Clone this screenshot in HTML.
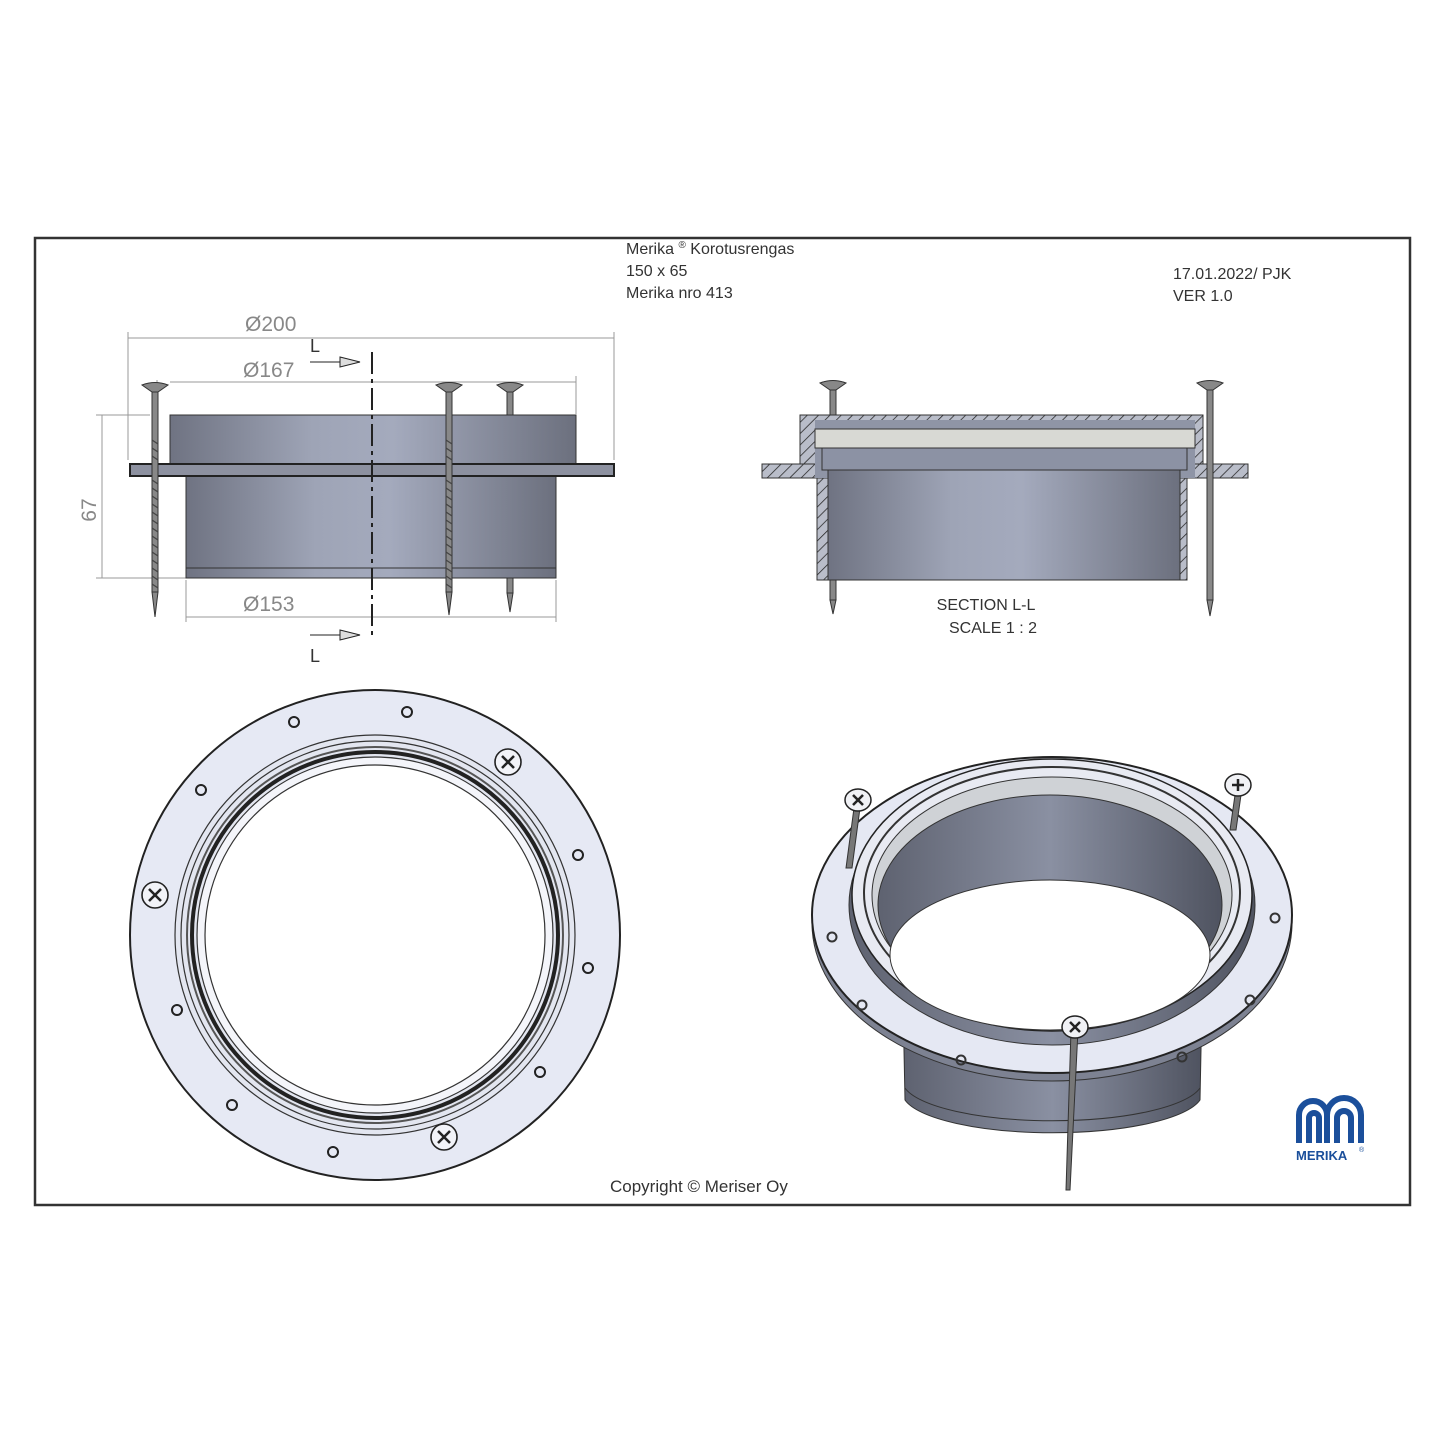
<!DOCTYPE html>
<html><head><meta charset="utf-8"><style>
html,body{margin:0;padding:0;background:#fff}
svg{display:block}
text{font-family:"Liberation Sans",sans-serif;fill:#333}
</style></head><body>
<svg width="1445" height="1445" viewBox="0 0 1445 1445" xmlns="http://www.w3.org/2000/svg">
<defs>
<linearGradient id="cyl" x1="0" x2="1" y1="0" y2="0">
<stop offset="0" stop-color="#6f7382"/><stop offset="0.35" stop-color="#9ea4b6"/><stop offset="0.55" stop-color="#a4aabd"/><stop offset="1" stop-color="#6c707e"/></linearGradient>
<linearGradient id="dark" x1="0" x2="1"><stop offset="0" stop-color="#5e6270"/><stop offset="0.5" stop-color="#8a90a2"/><stop offset="1" stop-color="#4f5360"/></linearGradient>
<pattern id="hatch" width="8" height="8" patternUnits="userSpaceOnUse" patternTransform="rotate(45)"><rect width="8" height="8" fill="#b9bdc9"/><line x1="0" y1="0" x2="0" y2="8" stroke="#222" stroke-width="1.5"/></pattern>
<g id="thread"><path d="M-3 0 L3 3 M-3 4 L3 7 M-3 8 L3 11" stroke="#333" stroke-width="1"/></g>
</defs>
<rect x="35" y="238" width="1375" height="967" fill="none" stroke="#333" stroke-width="2.5"/>

<!-- header -->
<text x="626" y="254" font-size="16">Merika <tspan font-size="10" dy="-6">®</tspan><tspan dy="6">   Korotusrengas</tspan></text>
<text x="626" y="276" font-size="16">150 x 65</text>
<text x="626" y="298" font-size="16">Merika nro 413</text>
<text x="1173" y="279" font-size="16">17.01.2022/ PJK</text>
<text x="1173" y="301" font-size="16">VER 1.0</text>

<!-- TOP LEFT VIEW -->
<g stroke="#999" stroke-width="1" fill="none">
<line x1="128" y1="338" x2="614" y2="338"/><line x1="128" y1="332" x2="128" y2="460"/><line x1="614" y1="332" x2="614" y2="460"/>
<line x1="170" y1="382" x2="576" y2="382"/><line x1="576" y1="376" x2="576" y2="414"/><line x1="157" y1="380" x2="157" y2="410"/>
<line x1="186" y1="617" x2="556" y2="617"/><line x1="186" y1="580" x2="186" y2="622"/><line x1="556" y1="580" x2="556" y2="622"/>
<line x1="102" y1="415" x2="102" y2="578"/><line x1="96" y1="415" x2="150" y2="415"/><line x1="96" y1="578" x2="186" y2="578"/>
</g>
<text x="245" y="331" font-size="21" fill="#888" style="fill:#888">Ø200</text>
<text x="243" y="377" font-size="21" style="fill:#888">Ø167</text>
<text x="243" y="611" font-size="21" style="fill:#888">Ø153</text>
<text x="96" y="510" font-size="21" style="fill:#888" transform="rotate(-90 96 510)" text-anchor="middle">67</text>
<rect x="170" y="415" width="406" height="49" fill="url(#cyl)" stroke="#333"/>
<rect x="186" y="476" width="370" height="102" fill="url(#cyl)" stroke="#333"/>
<line x1="186" y1="568" x2="556" y2="568" stroke="#333"/>
<rect x="130" y="464" width="484" height="12" fill="#8d91a0" stroke="#222" stroke-width="2"/>
<line x1="372" y1="352" x2="372" y2="640" stroke="#222" stroke-width="2" stroke-dasharray="22 5 4 5"/>
<g stroke="#222" fill="#ddd"><path d="M310 362 H340 M340 357 L360 362 L340 367 Z"/><path d="M310 635 H340 M340 630 L360 635 L340 640 Z"/></g>
<text x="310" y="352" font-size="18">L</text><text x="310" y="662" font-size="18">L</text>
<!-- screws -->
<g stroke="#333" fill="#888">
<path d="M142 385 Q155 380 168 385 L158 392 L152 392 Z"/><rect x="152" y="392" width="6" height="200"/><path d="M152 592 L155 617 L158 592Z"/>
<path d="M436 385 Q449 380 462 385 L452 392 L446 392 Z"/><rect x="446" y="392" width="6" height="200"/><path d="M446 592 L449 615 L452 592Z"/>
<path d="M497 385 Q510 380 523 385 L513 392 L507 392 Z"/><rect x="507" y="392" width="6" height="23"/><rect x="507" y="578" width="6" height="15"/><path d="M507 593 L510 612 L513 593Z"/>
</g>
<g stroke="#444" stroke-width="1.2"><path d="M152 440 L158 444 M152 448 L158 452 M152 456 L158 460 M152 480 L158 484 M152 488 L158 492 M152 496 L158 500 M152 504 L158 508 M152 512 L158 516 M152 520 L158 524 M152 528 L158 532 M152 536 L158 540 M152 544 L158 548 M152 552 L158 556 M152 560 L158 564 M152 568 L158 572 M152 576 L158 580 M152 584 L158 588"/>
<path d="M446 440 L452 444 M446 448 L452 452 M446 456 L452 460 M446 480 L452 484 M446 488 L452 492 M446 496 L452 500 M446 504 L452 508 M446 512 L452 516 M446 520 L452 524 M446 528 L452 532 M446 536 L452 540 M446 544 L452 548 M446 552 L452 556 M446 560 L452 564 M446 568 L452 572 M446 576 L452 580 M446 584 L452 588"/></g>

<!-- SECTION VIEW -->
<rect x="762" y="464" width="486" height="14" fill="url(#hatch)" stroke="#333"/>
<rect x="800" y="415" width="403" height="49" fill="url(#hatch)" stroke="#333"/>
<rect x="817" y="478" width="370" height="102" fill="url(#hatch)" stroke="#333"/>
<rect x="815" y="420" width="380" height="58" fill="#8f95a6"/>
<rect x="815" y="429" width="380" height="19" fill="#d8d9d4" stroke="#333"/>
<rect x="828" y="470" width="352" height="110" fill="url(#cyl)" stroke="#333"/>
<rect x="822" y="448" width="365" height="22" fill="#8c92a4" stroke="#333"/>
<g stroke="#333" fill="#888">
<path d="M820 383 Q833 378 846 383 L836 390 L830 390 Z"/><rect x="830" y="390" width="6" height="25"/><rect x="830" y="580" width="6" height="20"/><path d="M830 600 L833 614 L836 600Z"/>
<path d="M1197 383 Q1210 378 1223 383 L1213 390 L1207 390 Z"/><rect x="1207" y="390" width="6" height="210"/><path d="M1207 600 L1210 616 L1213 600Z"/>
</g>
<text x="986" y="610" font-size="16" text-anchor="middle">SECTION L-L</text>
<text x="993" y="633" font-size="16" text-anchor="middle">SCALE 1 : 2</text>

<!-- PLAN VIEW -->
<circle cx="375" cy="935" r="245" fill="#e6e9f4" stroke="#222" stroke-width="2"/>
<circle cx="375" cy="935" r="200" fill="#e3e6f0" stroke="#333" stroke-width="1.2"/>
<circle cx="375" cy="935" r="194" fill="none" stroke="#333" stroke-width="1.2"/>
<circle cx="375" cy="935" r="188" fill="none" stroke="#555" stroke-width="2"/>
<circle cx="375" cy="935" r="183" fill="none" stroke="#222" stroke-width="4"/>
<circle cx="375" cy="935" r="178" fill="#f4f5fa" stroke="#333" stroke-width="1.2"/>
<circle cx="375" cy="935" r="170" fill="#fff" stroke="#333" stroke-width="1.2"/>
<g fill="none" stroke="#222" stroke-width="2">
<circle cx="294" cy="722" r="5"/><circle cx="407" cy="712" r="5"/><circle cx="578" cy="855" r="5"/><circle cx="588" cy="968" r="5"/><circle cx="540" cy="1072" r="5"/><circle cx="333" cy="1152" r="5"/><circle cx="232" cy="1105" r="5"/><circle cx="177" cy="1010" r="5"/><circle cx="201" cy="790" r="5"/>
</g>
<g fill="#f2f3f8" stroke="#222" stroke-width="1.6">
<circle cx="508" cy="762" r="13"/><circle cx="444" cy="1137" r="13"/><circle cx="155" cy="895" r="13"/></g>
<g stroke="#222" stroke-width="2.5" fill="none"><path d="M502 756 L514 768 M514 756 L502 768 M438 1131 L450 1143 M450 1131 L438 1143 M149 889 L161 901 M161 889 L149 901"/></g>

<!-- ISO VIEW -->
<path d="M903 1000 L905 1100 A150 40 0 0 0 1200 1100 L1202 1000 Z" fill="url(#dark)" stroke="#333"/>
<path d="M905 1088 A150 40 0 0 0 1200 1088" fill="none" stroke="#333"/>
<ellipse cx="1052" cy="923" rx="240" ry="158" fill="#7d8292" stroke="#333"/>
<ellipse cx="1052" cy="915" rx="240" ry="158" fill="#e5e8f3" stroke="#222" stroke-width="2"/>
<ellipse cx="1052" cy="905" rx="203" ry="140" fill="url(#dark)" stroke="#333"/>
<ellipse cx="1052" cy="895" rx="200" ry="136" fill="#e8eaf2" stroke="#222" stroke-width="1.5"/>
<ellipse cx="1052" cy="893" rx="188" ry="126" fill="none" stroke="#333" stroke-width="2"/>
<ellipse cx="1052" cy="895" rx="180" ry="118" fill="#cfd2d6" stroke="#333"/>
<ellipse cx="1050" cy="905" rx="172" ry="110" fill="url(#dark)" stroke="#333"/>
<ellipse cx="1050" cy="955" rx="160" ry="75" fill="#fff" stroke="#333"/>
<g fill="none" stroke="#333" stroke-width="2">
<circle cx="832" cy="937" r="4.5"/><circle cx="862" cy="1005" r="4.5"/><circle cx="961" cy="1060" r="4.5"/><circle cx="1182" cy="1057" r="4.5"/><circle cx="1250" cy="1000" r="4.5"/><circle cx="1275" cy="918" r="4.5"/></g>
<g stroke="#333" fill="#777">
<path d="M854 808 L860 808 L852 868 L846 868Z"/><path d="M1235 795 L1241 795 L1236 830 L1230 830Z"/>
<path d="M1071 1030 L1078 1030 L1070 1190 L1066 1190Z"/></g>
<g fill="#f0f1f5" stroke="#222" stroke-width="1.5">
<ellipse cx="858" cy="800" rx="13" ry="11"/><ellipse cx="1238" cy="785" rx="13" ry="11"/><ellipse cx="1075" cy="1027" rx="13" ry="11"/></g>
<g stroke="#222" stroke-width="2.5"><path d="M853 795 L863 805 M863 795 L853 805 M1238 779 V791 M1232 785 H1244 M1070 1022 L1080 1032 M1080 1022 L1070 1032"/></g>

<!-- logo -->
<g fill="none" stroke="#1b4f9b" stroke-width="6">
<path d="M1299 1143 V1115 A14 14 0 0 1 1327 1115 V1143"/>
<path d="M1327 1115 A17 17 0 0 1 1361 1115 V1143"/>
<path d="M1309 1143 V1118 A5 5 0 0 1 1319 1118 V1143"/>
<path d="M1337 1143 V1118 A7 7 0 0 1 1351 1118 V1143"/>
</g>
<text x="1296" y="1160" font-size="13" font-weight="bold" style="fill:#1b4f9b">MERIKA</text>
<text x="1359" y="1152" font-size="7" style="fill:#1b4f9b">®</text>

<text x="610" y="1192" font-size="17">Copyright © Meriser Oy</text>
</svg>
</body></html>
